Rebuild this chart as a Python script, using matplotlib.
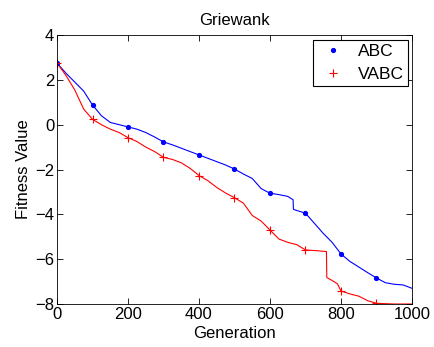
import matplotlib
matplotlib.use("Agg")
import matplotlib.pyplot as plt
from matplotlib.lines import Line2D

plt.rcParams['font.family'] = ['Liberation Sans', 'DejaVu Sans']

abc_x = [0, 25, 50, 75, 100, 125, 150, 175, 200, 225, 250, 275, 300, 325, 350, 375,
         400, 425, 450, 475, 500, 525, 550, 575, 600, 625, 650, 665, 666, 700, 725,
         750, 775, 800, 825, 850, 875, 900, 925, 950, 975, 1000]
abc_y = [2.75, 2.3, 1.9, 1.5, 0.88, 0.4, 0.1, 0.0, -0.1, -0.2, -0.35, -0.55, -0.77,
         -0.9, -1.05, -1.2, -1.35, -1.5, -1.65, -1.8, -1.98, -2.2, -2.4, -2.85, -3.06,
         -3.12, -3.2, -3.35, -3.78, -3.95, -4.4, -4.85, -5.25, -5.77, -6.1, -6.35,
         -6.6, -6.84, -7.05, -7.12, -7.15, -7.3]

vabc_x = [0, 25, 50, 75, 100, 125, 150, 175, 200, 225, 250, 275, 300, 325, 350, 375,
          400, 425, 450, 475, 500, 525, 550, 575, 600, 625, 650, 675, 700, 730, 759,
          760, 775, 790, 800, 825, 850, 875, 900, 950, 1000]
vabc_y = [2.75, 2.2, 1.55, 0.7, 0.24, 0.0, -0.2, -0.35, -0.58, -0.75, -1.0, -1.2, -1.46,
          -1.55, -1.7, -1.95, -2.27, -2.5, -2.8, -3.05, -3.26, -3.5, -4.05, -4.3, -4.7,
          -5.1, -5.25, -5.35, -5.59, -5.62, -5.66, -6.82, -6.95, -7.1, -7.42, -7.55,
          -7.65, -7.85, -7.97, -8.0, -8.0]

marker_gens = [0, 100, 200, 300, 400, 500, 600, 700, 800, 900]

fs = 12
fig = plt.figure(figsize=(4.35, 3.47), dpi=100)
ax = fig.add_axes([57/435, 43/347, 355/435, 269/347])

ax.plot(abc_x, abc_y, color='blue', lw=0.8)
ax.plot(vabc_x, vabc_y, color='red', lw=0.8)
ax.plot(abc_x, abc_y, ls='none', marker='.', ms=5.5, color='blue',
        markevery=[abc_x.index(g) for g in marker_gens])
ax.plot(vabc_x, vabc_y, ls='none', marker='+', ms=5.5, mew=0.8, color='red',
        markevery=[vabc_x.index(g) for g in marker_gens])

ax.set_xlim(0, 1000)
ax.set_ylim(-8, 4)
ax.set_xticks([0, 200, 400, 600, 800, 1000])
ax.set_yticks([-8, -6, -4, -2, 0, 2, 4])
ax.tick_params(direction='in', top=True, right=True, labelsize=fs, length=4,
               width=0.6, pad=2)
for s in ax.spines.values():
    s.set_linewidth(0.6)

ax.set_title('Griewank', fontsize=fs, pad=7)
ax.set_xlabel('Generation', fontsize=fs, labelpad=3)
ax.set_ylabel('Fitness Value', fontsize=fs, labelpad=3)

handles = [Line2D([], [], ls='none', marker='.', ms=5.5, color='blue'),
           Line2D([], [], ls='none', marker='+', ms=5.5, mew=0.8, color='red')]
leg = ax.legend(handles, ['ABC', 'VABC'], loc='upper right', fontsize=12.5,
                fancybox=False, edgecolor='black', framealpha=1,
                bbox_to_anchor=(351/355, 1 - 5/269), bbox_transform=ax.transAxes,
                borderaxespad=0.0, handlelength=1.9, handletextpad=0.45,
                borderpad=0.25, labelspacing=0.4)
leg.get_frame().set_linewidth(0.8)

fig.savefig('out.png', dpi=100)
